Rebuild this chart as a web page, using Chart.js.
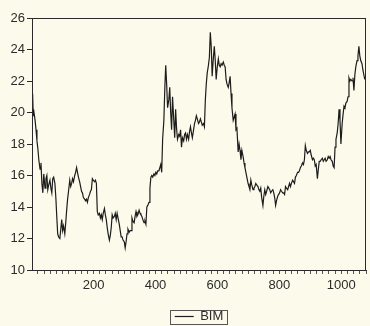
<!DOCTYPE html>
<html>
<head>
<meta charset="utf-8">
<script src="https://cdn.jsdelivr.net/npm/chart.js@4/dist/chart.umd.min.js"></script>
<style>
  html, body { margin: 0; padding: 0; background: #FCFBEB; }
  #wrap { width: 370px; height: 326px; }
</style>
</head>
<body>
<div id="wrap"><canvas id="c" width="370" height="326"></canvas></div>
<script>
// Observation number and BIM value
const obs = [1,3,5,6,11,14,17,20,23,27,30,33,36,39,43,46,49,52,55,59,62,65,68,71,75,78,81,84,87,91,94,97,100,103,107,110,113,116,119,123,126,129,132,135,139,142,145,148,151,155,158,161,164,167,171,174,177,180,183,187,190,193,196,199,203,206,209,212,215,219,222,225,228,231,235,238,241,244,247,251,254,257,260,263,267,270,273,276,279,283,286,289,292,295,299,302,305,308,311,315,318,321,324,327,331,334,337,340,343,347,350,353,356,359,363,366,369,372,375,379,382,385,388,391,395,398,401,404,407,411,414,417,420,423,427,430,433,436,439,443,446,449,452,455,459,462,465,468,471,475,478,481,484,487,491,494,497,500,503,507,510,513,516,519,523,526,529,532,535,539,542,545,548,551,555,558,561,564,567,571,574,577,580,583,587,590,593,596,599,603,606,609,612,615,619,622,625,628,631,635,638,641,644,647,651,654,657,660,663,667,670,673,676,679,683,686,689,692,695,699,702,705,708,711,715,718,721,724,727,731,734,737,740,743,747,750,753,756,759,763,766,769,772,775,779,782,785,788,791,795,798,801,804,807,811,814,817,820,823,827,830,833,836,839,843,846,849,852,855,859,862,865,868,871,875,878,881,884,887,891,894,897,900,903,907,910,913,916,919,923,926,929,932,935,939,942,945,948,951,955,958,961,964,967,971,974,977,980,983,987,990,993,996,999,1003,1006,1009,1012,1015,1019,1022,1025,1028,1031,1035,1038,1041,1044,1047,1051,1054,1057,1060,1063,1067,1070,1073,1076];
const bim = [20.6,21.2,19.8,20.2,19.5,18.9,18.2,17.7,17.0,16.4,16.8,15.5,14.9,16.1,15.2,15.8,16.0,15.1,15.4,15.7,15.2,14.9,15.8,15.9,15.5,14.6,13.4,12.3,12.1,12.0,12.6,13.2,12.5,12.8,12.3,13.0,13.8,14.5,15.0,15.7,15.3,15.5,15.8,15.6,16.0,16.2,16.5,16.2,15.9,15.6,15.3,15.0,14.9,14.6,14.5,14.4,14.5,14.3,14.6,14.8,15.0,15.1,15.8,15.7,15.6,15.7,15.5,13.7,13.5,13.6,13.3,13.5,13.2,13.6,13.9,13.5,13.2,12.7,12.3,11.9,12.2,12.7,13.5,13.3,13.4,13.6,13.2,13.6,13.3,12.9,12.5,12.1,12.1,11.9,11.8,11.4,11.8,12.3,12.6,12.4,12.5,12.5,13.3,13.1,13.0,13.4,13.7,13.4,13.5,13.8,13.6,13.5,13.4,13.2,13.0,13.1,12.9,14.0,14.1,14.3,15.2,15.9,16.0,15.9,16.1,16.0,16.2,16.1,16.3,16.3,16.5,16.7,16.2,18.3,19.5,21.5,23.0,21.8,20.3,20.8,21.6,20.0,18.9,21.0,19.5,18.4,20.2,19.0,18.3,18.6,18.5,18.9,17.8,18.4,18.2,18.6,18.7,18.3,18.6,18.3,18.8,19.1,18.7,18.4,18.9,19.3,19.5,19.8,19.6,19.3,19.4,19.6,19.4,19.2,19.3,19.1,20.8,21.8,22.5,23.0,23.5,25.1,24.2,22.3,23.5,24.2,23.3,22.1,22.8,23.4,23.0,22.9,23.1,23.0,23.2,23.0,22.9,22.1,21.8,21.6,21.9,22.3,21.2,20.3,19.5,19.7,19.9,18.9,19.0,17.5,18.0,17.6,17.0,17.6,17.2,16.8,16.5,16.2,15.9,15.5,15.3,15.1,15.7,15.4,15.1,15.2,15.3,15.5,15.4,15.3,15.1,15.0,15.2,14.6,14.1,14.7,15.1,14.8,15.0,15.3,15.2,15.1,14.9,15.0,15.1,14.9,14.6,14.1,14.4,14.7,14.8,14.9,15.1,15.0,14.9,14.9,14.8,15.3,15.2,15.1,15.3,15.5,15.3,15.5,15.7,15.6,15.5,15.9,16.0,16.2,16.2,16.3,16.5,16.6,16.8,16.7,17.0,17.9,17.6,17.4,17.5,17.5,17.6,17.3,17.0,17.1,17.0,16.6,16.7,15.8,16.4,16.9,16.9,17.0,17.1,16.9,17.0,17.1,16.9,17.0,17.2,17.1,17.2,17.0,16.9,16.6,16.5,17.8,18.3,18.7,19.3,20.2,19.5,18.0,19.3,19.9,20.4,20.3,20.6,20.7,21.0,22.2,22.0,22.1,22.0,22.2,21.4,22.4,22.9,23.3,23.6,24.2,23.6,23.3,23.1,22.7,22.4,22.1];

// Axis settings
const xRange = [1, 1080];
const xMinorStep = 20;
const xLabelStep = 200;
const yRange = [10, 26];
const yStep = 2;
const seriesName = 'BIM';

const ink = '#2a2a2a';
const textColor = '#2b2b2b';
const fontFamily = '"Liberation Sans", Arial, sans-serif';

// Frame around the plotting area and a box around the legend entry
const framePlugin = {
  id: 'frame',
  afterDatasetsDraw(chart) {
    const { ctx, chartArea: a } = chart;
    ctx.save();
    ctx.strokeStyle = ink;
    ctx.lineWidth = 1;
    ctx.strokeRect(Math.round(a.left) + 0.5, Math.round(a.top) + 0.5,
                   Math.round(a.right - a.left) - 1, Math.round(a.bottom - a.top));
    ctx.restore();
  },
  afterDraw(chart) {
    const hb = chart.legend && chart.legend.legendHitBoxes && chart.legend.legendHitBoxes[0];
    if (!hb) return;
    const { ctx } = chart;
    ctx.save();
    ctx.strokeStyle = '#555';
    ctx.lineWidth = 1;
    ctx.strokeRect(Math.round(hb.left - 5) + 0.5, Math.round(hb.top) + 0.5,
                   Math.round(hb.width + 8), Math.round(hb.height + 1));
    ctx.restore();
  }
};

new Chart(document.getElementById('c'), {
  type: 'line',
  data: {
    datasets: [{
      label: seriesName,
      data: obs.map((o, i) => ({ x: o, y: bim[i] })),
      borderColor: '#1c1c1c',
      backgroundColor: '#1c1c1c',
      borderWidth: 1.2,
      pointRadius: 0,
      tension: 0,
      pointStyle: 'line'
    }]
  },
  options: {
    responsive: false,
    animation: false,
    events: [],
    layout: { padding: { top: 18, right: 1, left: 0, bottom: -7 } },
    scales: {
      x: {
        type: 'linear',
        min: xRange[0],
        max: xRange[1],
        afterFit(scale) { scale.height = 38; },
        border: { display: true, color: ink, width: 1 },
        grid: { drawOnChartArea: false, drawTicks: true, tickLength: 4, color: '#555' },
        ticks: {
          stepSize: xMinorStep,
          includeBounds: false,
          autoSkip: false,
          maxRotation: 0,
          padding: 4,
          color: textColor,
          font: { family: fontFamily, size: 13 },
          callback: (v) => (v % xLabelStep === 0 ? String(v) : '')
        }
      },
      y: {
        min: yRange[0],
        max: yRange[1],
        afterFit(scale) { scale.width = 32; },
        border: { display: true, color: ink, width: 1 },
        grid: { drawOnChartArea: false, drawTicks: true, tickLength: 5, color: ink },
        ticks: {
          stepSize: yStep,
          padding: 2,
          color: textColor,
          font: { family: fontFamily, size: 13 }
        }
      }
    },
    plugins: {
      legend: {
        position: 'bottom',
        fullSize: false,
        labels: {
          usePointStyle: true,
          pointStyleWidth: 19,
          boxHeight: 13,
          padding: 2,
          color: textColor,
          font: { family: fontFamily, size: 13 }
        }
      },
      tooltip: { enabled: false }
    }
  },
  plugins: [framePlugin]
});
</script>
</body>
</html>
